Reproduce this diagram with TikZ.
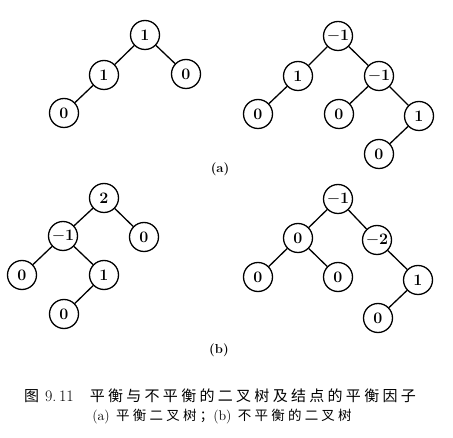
\documentclass[tikz,border=0pt]{standalone}
\usepackage{fontspec}
\newfontfamily\cjkA[LetterSpace=22]{Noto Sans CJK SC}
\newfontfamily\cjkB[LetterSpace=24]{Noto Sans CJK SC}
\begin{document}
\begin{tikzpicture}[x=1pt,y=-1pt,
  nd/.style={circle,draw,line width=1.3pt,minimum size=29pt,inner sep=0pt,font=\fontsize{16}{18}\selectfont\bfseries},
  ed/.style={line width=1.3pt},
  lbl/.style={font=\fontsize{13}{15}\selectfont\bfseries}]
\useasboundingbox (0,0) rectangle (453,438);
% (a) left
\node[nd] (a1) at (145,35) {1};
\node[nd] (a2) at (104,75) {1};
\node[nd] (a3) at (186,74) {0};
\node[nd] (a4) at (64,113) {0};
\draw[ed] (a1)--(a2) (a1)--(a3) (a2)--(a4);
% (a) right
\node[nd] (b1) at (338,36) {$\mathbf{-}$1};
\node[nd] (b2) at (298,76) {1};
\node[nd] (b3) at (379,76) {$\mathbf{-}$1};
\node[nd] (b4) at (258,114) {0};
\node[nd] (b5) at (339,114) {0};
\node[nd] (b6) at (419,116) {1};
\node[nd] (b7) at (379,154) {0};
\draw[ed] (b1)--(b2) (b1)--(b3) (b2)--(b4) (b3)--(b5) (b3)--(b6) (b6)--(b7);
\node[lbl] (la) at (220,169) {(a)};
% (b) left
\node[nd] (c1) at (104,198) {2};
\node[nd] (c2) at (63,236) {$\mathbf{-}$1};
\node[nd] (c3) at (144,237) {0};
\node[nd] (c4) at (22,275) {0};
\node[nd] (c5) at (104,275) {1};
\node[nd] (c6) at (64,314) {0};
\draw[ed] (c1)--(c2) (c1)--(c3) (c2)--(c4) (c2)--(c5) (c5)--(c6);
% (b) right
\node[nd] (d1) at (338,199) {$\mathbf{-}$1};
\node[nd] (d2) at (298,238) {0};
\node[nd] (d3) at (377,240) {$\mathbf{-}$2};
\node[nd] (d4) at (258,277) {0};
\node[nd] (d5) at (338,277) {0};
\node[nd] (d6) at (418,280) {1};
\node[nd] (d7) at (378,318) {0};
\draw[ed] (d1)--(d2) (d1)--(d3) (d2)--(d4) (d2)--(d5) (d3)--(d6) (d6)--(d7);
\node[lbl] (lb) at (219,350) {(b)};
% captions
\node[font=\fontsize{15}{17}\selectfont\cjkA] (cap1) at (220,396) {图\hspace{6pt}{\rmfamily\fontsize{16}{18}\selectfont 9.\,11}\hspace{16pt}平衡与不平衡的二叉树及结点的平衡因子};
\node[font=\fontsize{13.5}{16}\selectfont\cjkB] (cap2) at (222,417) {{\rmfamily\fontsize{14}{16}\selectfont (a)} 平衡二叉树；{\rmfamily\fontsize{14}{16}\selectfont (b)} 不平衡的二叉树};
\end{tikzpicture}
\end{document}
